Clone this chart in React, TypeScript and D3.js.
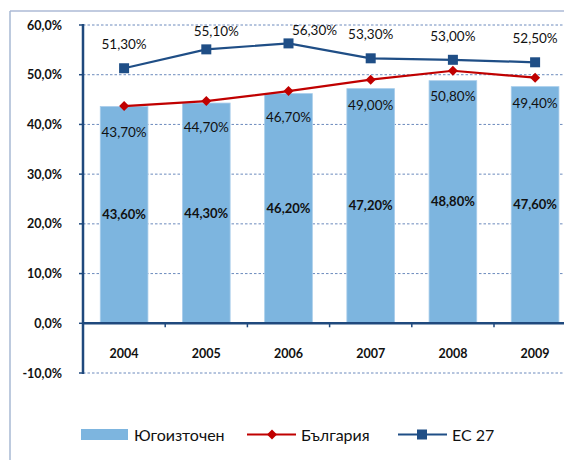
import React from "react";
import * as d3 from "d3";

const years = ["2004", "2005", "2006", "2007", "2008", "2009"];
const southEast = [43.6, 44.3, 46.2, 47.2, 48.8, 47.6];
const bulgaria = [43.7, 44.7, 46.7, 49.0, 50.8, 49.4];
const eu27 = [51.3, 55.1, 56.3, 53.3, 53.0, 52.5];
const yTicks = [-10, 0, 10, 20, 30, 40, 50, 60];
const seriesNames = ["Югоизточен", "България", "ЕС 27"];
// label placement tweaks for EU27 labels (dx, dy)
const euLabelShift: [number, number][] = [[0, 0], [10, 6], [26, 11], [0, 0], [0, 0], [0, 0]];

const W = 564, H = 460;
const FONT = "Lato, 'Open Sans', sans-serif";
const BAR = "#7DB5DF";
const RED = "#C00000";
const BLUE = "#1F4E86";
const AXIS = "#1F497D";

const fmt = (v: number) => v.toFixed(2).replace(".", ",") + "%";
const fmtTick = (v: number) => v.toFixed(1).replace(".", ",") + "%";
const diamond = "M0,-5L5,0L0,5L-5,0Z";

export default function App() {
  const x = d3.scaleBand<string>().domain(years).range([83, 83 + 6 * 82.2]).padding(0);
  const y = d3.scaleLinear().domain([-10, 60]).range([373, 25]);
  const bw = x.bandwidth() * 0.58;
  const cx = (yr: string) => (x(yr) as number) + x.bandwidth() / 2;
  const line = d3.line<number>().x((_, i) => cx(years[i])).y((v) => y(v));

  return (
    <svg width={W} height={H} style={{ position: "absolute", left: 0, top: 0, background: "#fff" }} fontFamily={FONT}>
      {/* frame */}
      <line x1={10} y1={11} x2={W} y2={11} stroke="#8398C2" strokeWidth={1.2} />
      <line x1={10} y1={11} x2={10} y2={H} stroke="#A7B8D3" strokeWidth={1.5} />

      {/* gridlines */}
      {yTicks.filter((t) => t !== 0).map((t) => (
        <line key={t} x1={83} x2={W} y1={y(t)} y2={y(t)} stroke="#5B7DB5" strokeWidth={0.9} strokeDasharray="2.5,2" />
      ))}

      {/* bars */}
      {southEast.map((v, i) => (
        <rect key={i} x={cx(years[i]) - bw / 2} y={y(v)} width={bw} height={y(0) - y(v)} fill={BAR} stroke="#A8CDEB" strokeWidth={0.8} />
      ))}
      {southEast.map((v, i) => (
        <text key={i} x={cx(years[i])} y={(y(v) + y(0)) / 2 + 4.5} textAnchor="middle" fontSize={13} fontWeight="bold" fill="#111">
          {fmt(v)}
        </text>
      ))}

      {/* axes */}
      <line x1={83} x2={83} y1={y(60) - 1} y2={y(-10) + 1} stroke={AXIS} strokeWidth={2.5} />
      {yTicks.map((t) => (
        <g key={t}>
          <line x1={79} x2={83} y1={y(t)} y2={y(t)} stroke={AXIS} strokeWidth={1.5} />
          <text x={62} y={y(t) + 4.5} textAnchor="end" fontSize={12.5} fontWeight="bold" fill="#111">{fmtTick(t)}</text>
        </g>
      ))}
      <line x1={83} x2={W} y1={y(0)} y2={y(0)} stroke={AXIS} strokeWidth={2.5} />
      {years.slice(1).map((yr) => (
        <line key={yr} x1={x(yr) as number} x2={x(yr) as number} y1={y(0)} y2={y(0) + 4} stroke={AXIS} strokeWidth={1.5} />
      ))}
      {years.map((yr) => (
        <text key={yr} x={cx(yr)} y={357.5} textAnchor="middle" fontSize={12.5} fontWeight="bold" fill="#111">{yr}</text>
      ))}

      {/* Bulgaria line */}
      <path d={line(bulgaria) || ""} fill="none" stroke={RED} strokeWidth={2.2} />
      {bulgaria.map((v, i) => (
        <path key={i} d={diamond} transform={`translate(${cx(years[i])},${y(v)})`} fill={RED} />
      ))}
      {bulgaria.map((v, i) => (
        <text key={i} x={cx(years[i])} y={y(v) + 30.5} textAnchor="middle" fontSize={13.5} fill="#111">{fmt(v)}</text>
      ))}

      {/* EU27 line */}
      <path d={line(eu27) || ""} fill="none" stroke={BLUE} strokeWidth={2.2} />
      {eu27.map((v, i) => (
        <rect key={i} x={cx(years[i]) - 5} y={y(v) - 5} width={10} height={10} fill={BLUE} />
      ))}
      {eu27.map((v, i) => (
        <text key={i} x={cx(years[i]) + euLabelShift[i][0]} y={y(v) - 19 + euLabelShift[i][1]} textAnchor="middle" fontSize={13.5} fill="#111">{fmt(v)}</text>
      ))}

      {/* legend */}
      <rect x={81} y={429} width={47} height={11} fill={BAR} />
      <text x={134} y={440.5} fontSize={16} fill="#111">{seriesNames[0]}</text>
      <line x1={247} x2={296} y1={434.5} y2={434.5} stroke={RED} strokeWidth={2.2} />
      <path d={diamond} transform="translate(272,434.5)" fill={RED} />
      <text x={301} y={440.5} fontSize={16} fill="#111">{seriesNames[1]}</text>
      <line x1={398} x2={447} y1={434.5} y2={434.5} stroke={BLUE} strokeWidth={2.2} />
      <rect x={417} y={429.5} width={10} height={10} fill={BLUE} />
      <text x={452} y={440.5} fontSize={16} fill="#111">{seriesNames[2]}</text>
    </svg>
  );
}
